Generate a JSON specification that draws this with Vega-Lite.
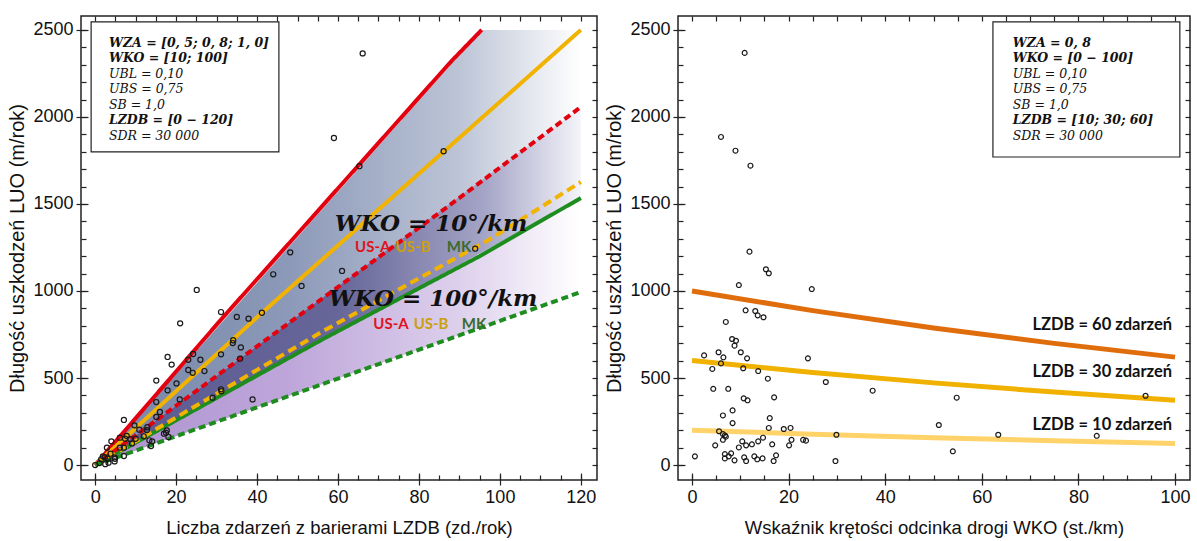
{
  "$schema": "https://vega.github.io/schema/vega-lite/v6.json",
  "background": "white",
  "padding": {"left": 7, "top": 14, "right": 4, "bottom": 4},
  "spacing": 5,
  "resolve": {"scale": {"color": "independent", "strokeDash": "independent", "strokeWidth": "independent"}},
  "config": {
    "view": {"stroke": "#222222", "strokeWidth": 1.5},
    "axis": {"grid": false, "domain": false, "tickColor": "#222222", "tickWidth": 1.2, "labelFont": "Liberation Sans", "titleFont": "Liberation Sans", "labelFontSize": 18, "titleFontSize": 18.5, "labelColor": "#111111", "titleColor": "#111111", "titleFontWeight": "normal"}
  },
  "datasets": {
    "bandsL": [
      {"band": "top", "x": 0, "hi": 0, "lo": 0},
      {"band": "top", "x": 95.5, "hi": 2500, "lo": 1637},
      {"band": "top", "x": 120, "hi": 2500, "lo": 2057},
      {"band": "mid", "x": 0, "hi": 0, "lo": 0},
      {"band": "mid", "x": 95.5, "hi": 1637, "lo": 1221},
      {"band": "mid", "x": 120, "hi": 2057, "lo": 1534},
      {"band": "bot", "x": 0, "hi": 0, "lo": 0},
      {"band": "bot", "x": 120, "hi": 1534, "lo": 994}
    ],
    "linesL": [
      {"s": "US-A 10", "x": 0, "y": 0}, {"s": "US-A 10", "x": 31, "y": 833}, {"s": "US-A 10", "x": 88, "y": 2320}, {"s": "US-A 10", "x": 95.5, "y": 2500},
      {"s": "US-B 10", "x": 0, "y": 0}, {"s": "US-B 10", "x": 41, "y": 870}, {"s": "US-B 10", "x": 105, "y": 2190}, {"s": "US-B 10", "x": 120, "y": 2500},
      {"s": "MK 10", "x": 0, "y": 0}, {"s": "MK 10", "x": 56, "y": 720}, {"s": "MK 10", "x": 95, "y": 1200}, {"s": "MK 10", "x": 120, "y": 1534},
      {"s": "US-A 100", "x": 0, "y": 0}, {"s": "US-A 100", "x": 88, "y": 1500}, {"s": "US-A 100", "x": 120, "y": 2057},
      {"s": "US-B 100", "x": 0, "y": 0}, {"s": "US-B 100", "x": 56, "y": 765}, {"s": "US-B 100", "x": 97, "y": 1290}, {"s": "US-B 100", "x": 120, "y": 1626},
      {"s": "MK 100", "x": 0, "y": 0}, {"s": "MK 100", "x": 120, "y": 994}
    ],
    "pointsL": [
      {"x": 66.1, "y": 2365}, {"x": 59.0, "y": 1879}, {"x": 65.3, "y": 1717}, {"x": 86.1, "y": 1803}, {"x": 48.2, "y": 1222},
      {"x": 44.0, "y": 1096}, {"x": 51.0, "y": 1029}, {"x": 61.0, "y": 1115}, {"x": 25.1, "y": 1006}, {"x": 31.1, "y": 879},
      {"x": 35.0, "y": 851}, {"x": 37.9, "y": 841}, {"x": 41.2, "y": 875}, {"x": 21.0, "y": 814}, {"x": 93.9, "y": 1243},
      {"x": 38.9, "y": 377}, {"x": 17.9, "y": 621}, {"x": 18.9, "y": 577}, {"x": 24.2, "y": 638}, {"x": 23.0, "y": 605},
      {"x": 26.0, "y": 605}, {"x": 23.0, "y": 546}, {"x": 24.1, "y": 530}, {"x": 27.0, "y": 540}, {"x": 34.1, "y": 717},
      {"x": 34.0, "y": 701}, {"x": 36.0, "y": 676}, {"x": 35.8, "y": 611}, {"x": 31.1, "y": 636}, {"x": 15.1, "y": 485},
      {"x": 15.1, "y": 362}, {"x": 17.9, "y": 429}, {"x": 20.1, "y": 469}, {"x": 20.9, "y": 377}, {"x": 15.1, "y": 276},
      {"x": 16.0, "y": 305}, {"x": 9.7, "y": 228}, {"x": 7.1, "y": 259}, {"x": 10.9, "y": 203}, {"x": 12.9, "y": 218},
      {"x": 12.8, "y": 201}, {"x": 12.0, "y": 165}, {"x": 10.0, "y": 151}, {"x": 8.7, "y": 148}, {"x": 7.4, "y": 151},
      {"x": 7.1, "y": 100}, {"x": 6.1, "y": 157}, {"x": 6.1, "y": 100}, {"x": 4.8, "y": 44}, {"x": 4.8, "y": 21},
      {"x": 4.0, "y": 136}, {"x": 2.9, "y": 100}, {"x": 2.4, "y": 44}, {"x": 1.9, "y": 50}, {"x": 1.5, "y": 33},
      {"x": 3.1, "y": 36}, {"x": 3.3, "y": 13}, {"x": 0, "y": 0}, {"x": 1.1, "y": 11}, {"x": 2.5, "y": 5},
      {"x": 3.8, "y": 65}, {"x": 4.9, "y": 36}, {"x": 17.0, "y": 180}, {"x": 17.5, "y": 186}, {"x": 18.1, "y": 161},
      {"x": 17.7, "y": 199}, {"x": 14.1, "y": 136}, {"x": 13.8, "y": 109}, {"x": 13.4, "y": 142}, {"x": 7.8, "y": 167},
      {"x": 9.1, "y": 124}, {"x": 7.1, "y": 52}, {"x": 29.0, "y": 387}, {"x": 31.1, "y": 435}, {"x": 31.2, "y": 424}
    ],
    "boxL": [{"x": -1, "x2": 45.4, "y": 1799, "y2": 2546}],
    "boxTextL": [
      {"x": 3.4, "y": 2425, "t": "WZA = [0, 5; 0, 8; 1, 0]", "b": true},
      {"x": 3.4, "y": 2336, "t": "WKO = [10; 100]", "b": true},
      {"x": 3.4, "y": 2247, "t": "UBL = 0,10", "b": false},
      {"x": 3.4, "y": 2158, "t": "UBS = 0,75", "b": false},
      {"x": 3.4, "y": 2069, "t": "SB = 1,0", "b": false},
      {"x": 3.4, "y": 1980, "t": "LZDB = [0 − 120]", "b": true},
      {"x": 3.4, "y": 1891, "t": "SDR = 30 000", "b": false}
    ],
    "bigL": [
      {"x": 83, "y": 1385, "t": "WKO = 10°/km"},
      {"x": 83.5, "y": 954, "t": "WKO = 100°/km"}
    ],
    "subL": [
      {"x": 68.6, "y": 1253, "t": "US-A", "who": "US-A"},
      {"x": 78.5, "y": 1253, "t": "US-B", "who": "US-B"},
      {"x": 89.9, "y": 1253, "t": "MK", "who": "MK"},
      {"x": 73.1, "y": 810, "t": "US-A", "who": "US-A"},
      {"x": 83.0, "y": 810, "t": "US-B", "who": "US-B"},
      {"x": 93.6, "y": 810, "t": "MK", "who": "MK"}
    ],
    "linesR": [
      {"s": "60", "x": 0, "y": 1000}, {"s": "60", "x": 25, "y": 887}, {"s": "60", "x": 50, "y": 787}, {"s": "60", "x": 75, "y": 699}, {"s": "60", "x": 100, "y": 620},
      {"s": "30", "x": 0, "y": 600}, {"s": "30", "x": 25, "y": 532}, {"s": "30", "x": 50, "y": 472}, {"s": "30", "x": 75, "y": 419}, {"s": "30", "x": 100, "y": 372},
      {"s": "10", "x": 0, "y": 200}, {"s": "10", "x": 25, "y": 177}, {"s": "10", "x": 50, "y": 157}, {"s": "10", "x": 75, "y": 140}, {"s": "10", "x": 100, "y": 124}
    ],
    "pointsR": [
      {"x": 10.9, "y": 2368}, {"x": 6.0, "y": 1885}, {"x": 9.0, "y": 1806}, {"x": 12.1, "y": 1720}, {"x": 11.9, "y": 1226},
      {"x": 15.3, "y": 1125}, {"x": 15.9, "y": 1102}, {"x": 9.7, "y": 1034}, {"x": 24.8, "y": 1011}, {"x": 11.1, "y": 889},
      {"x": 13.1, "y": 885}, {"x": 13.6, "y": 860}, {"x": 14.8, "y": 849}, {"x": 7.0, "y": 822}, {"x": 8.3, "y": 724},
      {"x": 9.1, "y": 714}, {"x": 8.8, "y": 686}, {"x": 10.1, "y": 648}, {"x": 2.5, "y": 630}, {"x": 5.5, "y": 648},
      {"x": 6.5, "y": 619}, {"x": 11.4, "y": 613}, {"x": 24.0, "y": 613}, {"x": 4.2, "y": 552}, {"x": 6.0, "y": 584},
      {"x": 10.6, "y": 556}, {"x": 13.7, "y": 540}, {"x": 15.7, "y": 496}, {"x": 27.7, "y": 477}, {"x": 4.4, "y": 438},
      {"x": 7.5, "y": 438}, {"x": 10.7, "y": 383}, {"x": 11.5, "y": 372}, {"x": 17.0, "y": 389}, {"x": 8.4, "y": 314},
      {"x": 6.4, "y": 285}, {"x": 16.1, "y": 270}, {"x": 8.4, "y": 241}, {"x": 15.9, "y": 213}, {"x": 19.0, "y": 207},
      {"x": 20.4, "y": 213}, {"x": 29.9, "y": 174}, {"x": 5.6, "y": 194}, {"x": 6.4, "y": 178}, {"x": 6.8, "y": 170},
      {"x": 7.0, "y": 163}, {"x": 6.4, "y": 145}, {"x": 14.7, "y": 157}, {"x": 23.0, "y": 145}, {"x": 23.6, "y": 140},
      {"x": 20.6, "y": 145}, {"x": 13.7, "y": 136}, {"x": 10.4, "y": 136}, {"x": 12.4, "y": 119}, {"x": 11.2, "y": 113},
      {"x": 16.6, "y": 119}, {"x": 20.1, "y": 113}, {"x": 4.8, "y": 113}, {"x": 9.7, "y": 101}, {"x": 0.6, "y": 50},
      {"x": 6.8, "y": 63}, {"x": 8.1, "y": 67}, {"x": 7.6, "y": 50}, {"x": 6.8, "y": 38}, {"x": 8.8, "y": 27},
      {"x": 10.8, "y": 44}, {"x": 11.2, "y": 23}, {"x": 12.9, "y": 50}, {"x": 13.5, "y": 33}, {"x": 14.6, "y": 38},
      {"x": 16.9, "y": 23}, {"x": 17.4, "y": 56}, {"x": 29.7, "y": 23}, {"x": 37.4, "y": 427}, {"x": 54.8, "y": 387},
      {"x": 93.9, "y": 398}, {"x": 51.1, "y": 230}, {"x": 63.4, "y": 174}, {"x": 83.8, "y": 168}, {"x": 54.0, "y": 79}
    ],
    "boxR": [{"x": 62.3, "x2": 101, "y": 1770, "y2": 2546}],
    "boxTextR": [
      {"x": 66.4, "y": 2425, "t": "WZA = 0, 8", "b": true},
      {"x": 66.4, "y": 2336, "t": "WKO = [0 − 100]", "b": true},
      {"x": 66.4, "y": 2247, "t": "UBL = 0,10", "b": false},
      {"x": 66.4, "y": 2158, "t": "UBS = 0,75", "b": false},
      {"x": 66.4, "y": 2069, "t": "SB = 1,0", "b": false},
      {"x": 66.4, "y": 1980, "t": "LZDB = [10; 30; 60]", "b": true},
      {"x": 66.4, "y": 1891, "t": "SDR = 30 000", "b": false}
    ],
    "labR": [
      {"x": 99.4, "y": 805, "t": "LZDB = 60 zdarzeń"},
      {"x": 99.4, "y": 534, "t": "LZDB = 30 zdarzeń"},
      {"x": 99.4, "y": 230, "t": "LZDB = 10 zdarzeń"}
    ]
  },
  "hconcat": [
    {
      "width": 516,
      "height": 464,
      "resolve": {"axis": {"x": "independent", "y": "independent"}, "scale": {"color": "independent"}},
      "layer": [
        {
          "data": {"name": "bandsL"},
          "transform": [{"filter": "datum.band === 'top'"}],
          "mark": {"type": "area", "fill": {"gradient": "linear", "x1": 0, "y1": 0, "x2": 1, "y2": 0, "stops": [{"offset": 0, "color": "#7686a9"}, {"offset": 0.4, "color": "#8c99b8"}, {"offset": 0.75, "color": "#bcc4d6"}, {"offset": 1, "color": "#ffffff"}]}},
          "encoding": {
            "x": {"field": "x", "type": "quantitative", "scale": {"domain": [-3.5, 124], "nice": false, "zero": false},
                  "axis": {"orient": "bottom", "values": [0, 20, 40, 60, 80, 100, 120], "format": "d", "tickSize": 5, "labelPadding": 3, "labelFlush": false, "title": "Liczba zdarzeń z barierami LZDB (zd./rok)", "titlePadding": 12}},
            "y": {"field": "hi", "type": "quantitative", "scale": {"domain": [-86, 2580], "nice": false, "zero": false},
                  "axis": {"orient": "left", "values": [0, 500, 1000, 1500, 2000, 2500], "format": "d", "tickSize": 5, "labelPadding": 3, "title": "Długość uszkodzeń LUO (m/rok)", "titleFontSize": 20, "titlePadding": 5}},
            "y2": {"field": "lo"}
          }
        },
        {
          "data": {"name": "bandsL"},
          "transform": [{"filter": "datum.band === 'mid'"}],
          "mark": {"type": "area", "fill": {"gradient": "linear", "x1": 0, "y1": 0, "x2": 1, "y2": 0, "stops": [{"offset": 0, "color": "#5a5a92"}, {"offset": 0.5, "color": "#666699"}, {"offset": 0.8, "color": "#a4a4c6"}, {"offset": 1, "color": "#f4f4fa"}]}},
          "encoding": {
            "x": {"field": "x", "type": "quantitative", "scale": {"domain": [-3.5, 124], "nice": false, "zero": false},
                  "axis": {"orient": "bottom", "values": [0, 5, 10, 15, 20, 25, 30, 35, 40, 45, 50, 55, 60, 65, 70, 75, 80, 85, 90, 95, 100, 105, 110, 115, 120], "tickSize": -5, "labels": false, "title": null}},
            "y": {"field": "hi", "type": "quantitative", "scale": {"domain": [-86, 2580], "nice": false, "zero": false},
                  "axis": {"orient": "left", "values": [0, 100, 200, 300, 400, 500, 600, 700, 800, 900, 1000, 1100, 1200, 1300, 1400, 1500, 1600, 1700, 1800, 1900, 2000, 2100, 2200, 2300, 2400, 2500], "tickSize": -5, "labels": false, "title": null}},
            "y2": {"field": "lo"}
          }
        },
        {
          "data": {"name": "bandsL"},
          "transform": [{"filter": "datum.band === 'bot'"}],
          "mark": {"type": "area", "fill": {"gradient": "linear", "x1": 0, "y1": 0, "x2": 1, "y2": 0, "stops": [{"offset": 0, "color": "#ae92d0"}, {"offset": 0.4, "color": "#bea6da"}, {"offset": 0.75, "color": "#ddd0ec"}, {"offset": 1, "color": "#ffffff"}]}},
          "encoding": {
            "x": {"field": "x", "type": "quantitative", "scale": {"domain": [-3.5, 124], "nice": false, "zero": false},
                  "axis": {"orient": "top", "values": [0, 5, 10, 15, 20, 25, 30, 35, 40, 45, 50, 55, 60, 65, 70, 75, 80, 85, 90, 95, 100, 105, 110, 115, 120], "tickSize": -5, "labels": false, "title": null}},
            "y": {"field": "hi", "type": "quantitative", "scale": {"domain": [-86, 2580], "nice": false, "zero": false},
                  "axis": {"orient": "right", "values": [0, 100, 200, 300, 400, 500, 600, 700, 800, 900, 1000, 1100, 1200, 1300, 1400, 1500, 1600, 1700, 1800, 1900, 2000, 2100, 2200, 2300, 2400, 2500], "tickSize": -5, "labels": false, "title": null}},
            "y2": {"field": "lo"}
          }
        },
        {
          "data": {"name": "linesL"},
          "mark": {"type": "line"},
          "encoding": {
            "x": {"field": "x", "type": "quantitative", "scale": {"domain": [-3.5, 124], "nice": false, "zero": false},
                  "axis": {"orient": "bottom", "values": [0, 20, 40, 60, 80, 100, 120], "tickSize": -7, "labels": false, "title": null}},
            "y": {"field": "y", "type": "quantitative", "scale": {"domain": [-86, 2580], "nice": false, "zero": false},
                  "axis": {"orient": "left", "values": [0, 500, 1000, 1500, 2000, 2500], "tickSize": -7, "labels": false, "title": null}},
            "detail": {"field": "s"},
            "color": {"field": "s", "type": "nominal", "legend": null,
                      "scale": {"domain": ["US-A 10", "US-B 10", "MK 10", "US-A 100", "US-B 100", "MK 100"], "range": ["#e3000f", "#f2b300", "#1f8c1f", "#e3000f", "#f2b300", "#1f8c1f"]}},
            "strokeDash": {"field": "s", "type": "nominal", "legend": null,
                      "scale": {"domain": ["US-A 10", "US-B 10", "MK 10", "US-A 100", "US-B 100", "MK 100"], "range": [[1, 0], [1, 0], [1, 0], [7, 4], [9, 5], [7, 4]]}},
            "strokeWidth": {"field": "s", "type": "ordinal", "legend": null,
                      "scale": {"domain": ["US-A 10", "US-B 10", "MK 10", "US-A 100", "US-B 100", "MK 100"], "range": [4, 4, 3.5, 3, 3, 3]}}
          }
        },
        {
          "data": {"name": "pointsL"},
          "mark": {"type": "point", "shape": "circle", "filled": false, "stroke": "#1a1a1a", "strokeWidth": 1.2, "size": 26, "opacity": 1},
          "encoding": {
            "x": {"field": "x", "type": "quantitative", "scale": {"domain": [-3.5, 124], "nice": false, "zero": false}, "axis": null},
            "y": {"field": "y", "type": "quantitative", "scale": {"domain": [-86, 2580], "nice": false, "zero": false}, "axis": null}
          }
        },
        {
          "data": {"name": "boxL"},
          "mark": {"type": "rect", "fill": "white", "stroke": "#222222", "strokeWidth": 1.2},
          "encoding": {
            "x": {"field": "x", "type": "quantitative", "scale": {"domain": [-3.5, 124], "nice": false, "zero": false}, "axis": null},
            "x2": {"field": "x2"},
            "y": {"field": "y", "type": "quantitative", "scale": {"domain": [-86, 2580], "nice": false, "zero": false}, "axis": null},
            "y2": {"field": "y2"}
          }
        },
        {
          "data": {"name": "boxTextL"},
          "transform": [{"filter": "datum.b"}],
          "mark": {"type": "text", "align": "left", "baseline": "middle", "font": "DejaVu Serif", "fontSize": 12.5, "fontStyle": "italic", "fontWeight": "bold", "color": "#111111"},
          "encoding": {
            "x": {"field": "x", "type": "quantitative", "scale": {"domain": [-3.5, 124], "nice": false, "zero": false}, "axis": null},
            "y": {"field": "y", "type": "quantitative", "scale": {"domain": [-86, 2580], "nice": false, "zero": false}, "axis": null},
            "text": {"field": "t"}
          }
        },
        {
          "data": {"name": "boxTextL"},
          "transform": [{"filter": "!datum.b"}],
          "mark": {"type": "text", "align": "left", "baseline": "middle", "font": "DejaVu Serif", "fontSize": 12.5, "fontStyle": "italic", "color": "#111111"},
          "encoding": {
            "x": {"field": "x", "type": "quantitative", "scale": {"domain": [-3.5, 124], "nice": false, "zero": false}, "axis": null},
            "y": {"field": "y", "type": "quantitative", "scale": {"domain": [-86, 2580], "nice": false, "zero": false}, "axis": null},
            "text": {"field": "t"}
          }
        },
        {
          "data": {"name": "bigL"},
          "mark": {"type": "text", "align": "center", "baseline": "middle", "font": "DejaVu Serif", "fontSize": 23, "fontStyle": "italic", "fontWeight": "bold", "color": "#111111"},
          "encoding": {
            "x": {"field": "x", "type": "quantitative", "scale": {"domain": [-3.5, 124], "nice": false, "zero": false}, "axis": null},
            "y": {"field": "y", "type": "quantitative", "scale": {"domain": [-86, 2580], "nice": false, "zero": false}, "axis": null},
            "text": {"field": "t"}
          }
        },
        {
          "data": {"name": "subL"},
          "mark": {"type": "text", "align": "center", "baseline": "middle", "font": "Lato", "fontSize": 15, "fontWeight": "bold"},
          "encoding": {
            "x": {"field": "x", "type": "quantitative", "scale": {"domain": [-3.5, 124], "nice": false, "zero": false}, "axis": null},
            "y": {"field": "y", "type": "quantitative", "scale": {"domain": [-86, 2580], "nice": false, "zero": false}, "axis": null},
            "text": {"field": "t"},
            "color": {"field": "who", "type": "nominal", "legend": null, "scale": {"domain": ["US-A", "US-B", "MK"], "range": ["#e0141e", "#c9a00c", "#3c6b2e"]}}
          }
        }
      ]
    },
    {
      "width": 512,
      "height": 464,
      "resolve": {"axis": {"x": "independent", "y": "independent"}},
      "layer": [
        {
          "data": {"name": "linesR"},
          "mark": {"type": "line", "strokeWidth": 5},
          "encoding": {
            "x": {"field": "x", "type": "quantitative", "scale": {"domain": [-2.9, 103.1], "nice": false, "zero": false},
                  "axis": {"orient": "bottom", "values": [0, 20, 40, 60, 80, 100], "format": "d", "tickSize": 5, "labelPadding": 3, "labelFlush": false, "title": "Wskaźnik krętości odcinka drogi WKO (st./km)", "titlePadding": 12}},
            "y": {"field": "y", "type": "quantitative", "scale": {"domain": [-86, 2580], "nice": false, "zero": false},
                  "axis": {"orient": "left", "values": [0, 500, 1000, 1500, 2000, 2500], "format": "d", "tickSize": 5, "labelPadding": 3, "title": "Długość uszkodzeń LUO (m/rok)", "titleFontSize": 20, "titlePadding": 5}},
            "detail": {"field": "s"},
            "color": {"field": "s", "type": "nominal", "legend": null, "scale": {"domain": ["60", "30", "10"], "range": ["#e06d0c", "#f1b100", "#ffd36a"]}}
          }
        },
        {
          "data": {"name": "pointsR"},
          "mark": {"type": "point", "shape": "circle", "filled": false, "stroke": "#1a1a1a", "strokeWidth": 1.2, "size": 24, "opacity": 1},
          "encoding": {
            "x": {"field": "x", "type": "quantitative", "scale": {"domain": [-2.9, 103.1], "nice": false, "zero": false},
                  "axis": {"orient": "bottom", "values": [0, 5, 10, 15, 20, 25, 30, 35, 40, 45, 50, 55, 60, 65, 70, 75, 80, 85, 90, 95, 100], "tickSize": -5, "labels": false, "title": null}},
            "y": {"field": "y", "type": "quantitative", "scale": {"domain": [-86, 2580], "nice": false, "zero": false},
                  "axis": {"orient": "left", "values": [0, 100, 200, 300, 400, 500, 600, 700, 800, 900, 1000, 1100, 1200, 1300, 1400, 1500, 1600, 1700, 1800, 1900, 2000, 2100, 2200, 2300, 2400, 2500], "tickSize": -5, "labels": false, "title": null}}
          }
        },
        {
          "data": {"name": "boxR"},
          "mark": {"type": "rect", "fill": "white", "stroke": "#222222", "strokeWidth": 1.2},
          "encoding": {
            "x": {"field": "x", "type": "quantitative", "scale": {"domain": [-2.9, 103.1], "nice": false, "zero": false},
                  "axis": {"orient": "top", "values": [0, 5, 10, 15, 20, 25, 30, 35, 40, 45, 50, 55, 60, 65, 70, 75, 80, 85, 90, 95, 100], "tickSize": -5, "labels": false, "title": null}},
            "x2": {"field": "x2"},
            "y": {"field": "y", "type": "quantitative", "scale": {"domain": [-86, 2580], "nice": false, "zero": false},
                  "axis": {"orient": "right", "values": [0, 100, 200, 300, 400, 500, 600, 700, 800, 900, 1000, 1100, 1200, 1300, 1400, 1500, 1600, 1700, 1800, 1900, 2000, 2100, 2200, 2300, 2400, 2500], "tickSize": -5, "labels": false, "title": null}},
            "y2": {"field": "y2"}
          }
        },
        {
          "data": {"name": "boxTextR"},
          "transform": [{"filter": "datum.b"}],
          "mark": {"type": "text", "align": "left", "baseline": "middle", "font": "DejaVu Serif", "fontSize": 12.5, "fontStyle": "italic", "fontWeight": "bold", "color": "#111111"},
          "encoding": {
            "x": {"field": "x", "type": "quantitative", "scale": {"domain": [-2.9, 103.1], "nice": false, "zero": false},
                  "axis": {"orient": "bottom", "values": [0, 20, 40, 60, 80, 100], "tickSize": -7, "labels": false, "title": null}},
            "y": {"field": "y", "type": "quantitative", "scale": {"domain": [-86, 2580], "nice": false, "zero": false},
                  "axis": {"orient": "left", "values": [0, 500, 1000, 1500, 2000, 2500], "tickSize": -7, "labels": false, "title": null}},
            "text": {"field": "t"}
          }
        },
        {
          "data": {"name": "boxTextR"},
          "transform": [{"filter": "!datum.b"}],
          "mark": {"type": "text", "align": "left", "baseline": "middle", "font": "DejaVu Serif", "fontSize": 12.5, "fontStyle": "italic", "color": "#111111"},
          "encoding": {
            "x": {"field": "x", "type": "quantitative", "scale": {"domain": [-2.9, 103.1], "nice": false, "zero": false}, "axis": null},
            "y": {"field": "y", "type": "quantitative", "scale": {"domain": [-86, 2580], "nice": false, "zero": false}, "axis": null},
            "text": {"field": "t"}
          }
        },
        {
          "data": {"name": "labR"},
          "mark": {"type": "text", "align": "right", "baseline": "middle", "font": "Lato", "fontSize": 16.5, "fontWeight": "bold", "color": "#111111"},
          "encoding": {
            "x": {"field": "x", "type": "quantitative", "scale": {"domain": [-2.9, 103.1], "nice": false, "zero": false}, "axis": null},
            "y": {"field": "y", "type": "quantitative", "scale": {"domain": [-86, 2580], "nice": false, "zero": false}, "axis": null},
            "text": {"field": "t"}
          }
        }
      ]
    }
  ]
}
